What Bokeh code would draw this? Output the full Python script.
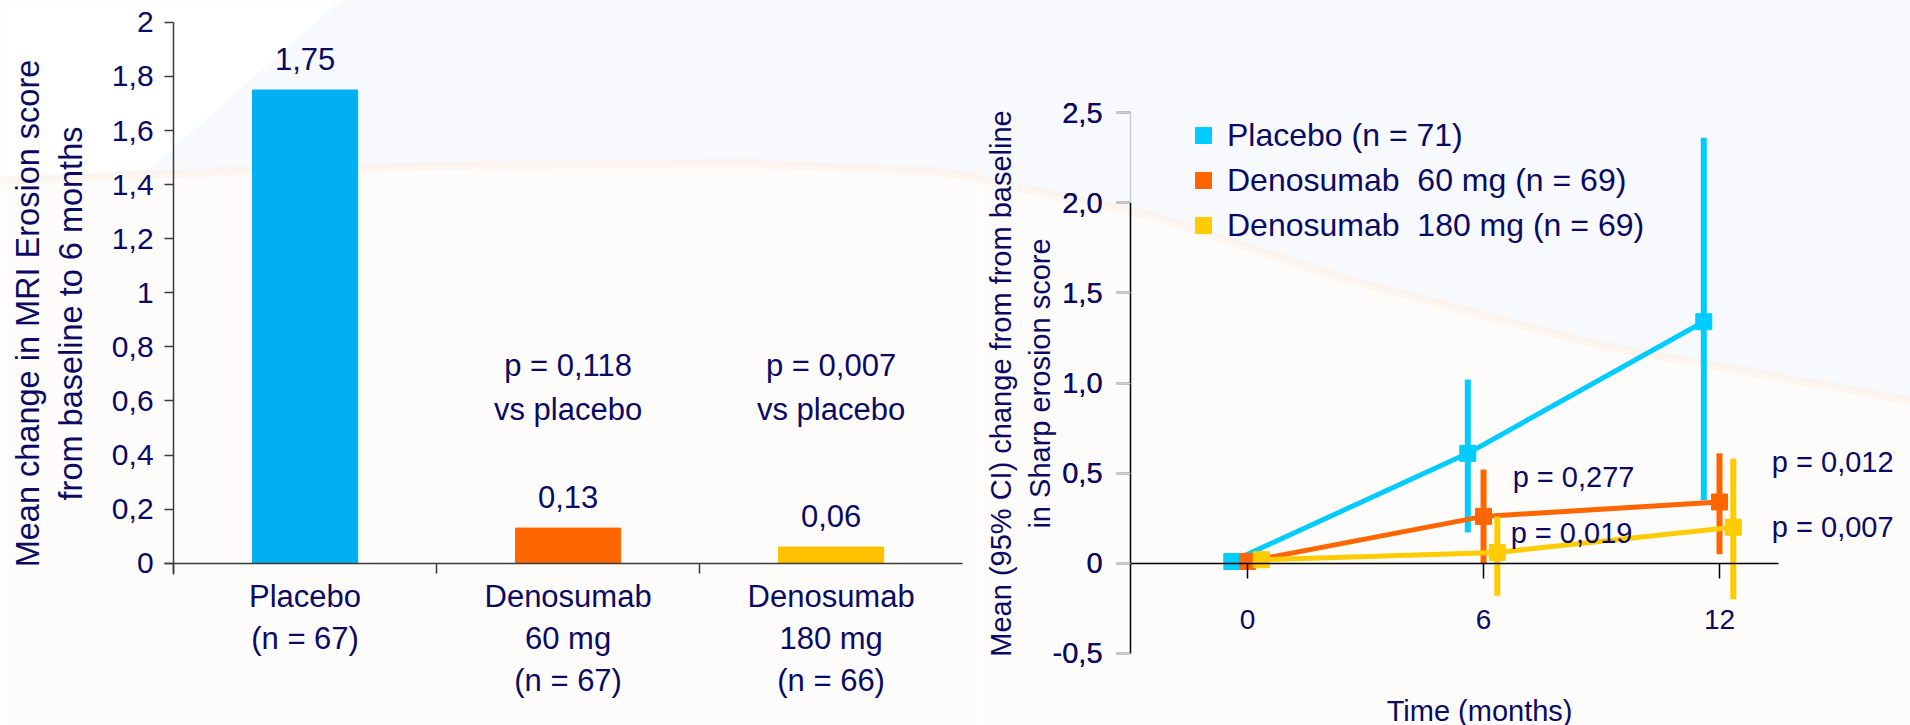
import math

from bokeh.core.properties import value
from bokeh.embed import file_html
from bokeh.layouts import row
from bokeh.models import (ColumnDataSource, FixedTicker, Label, LabelSet, Legend,
                          LegendItem, LinearAxis, Range1d)
from bokeh.plotting import figure
from bokeh.resources import INLINE
from bokeh.transform import dodge

# ---------------- MRI erosion score, baseline to 6 months ----------------
mri_groups = ["Placebo\n(n = 67)", "Denosumab\n60 mg\n(n = 67)", "Denosumab\n180 mg\n(n = 66)"]
mri_change = [1.75, 0.13, 0.06]
mri_pvalues = ["", "p = 0,118\nvs placebo", "p = 0,007\nvs placebo"]
mri_ticks = [0, 0.2, 0.4, 0.6, 0.8, 1.0, 1.2, 1.4, 1.6, 1.8, 2.0]
mri_tick_labels = ["0", "0,2", "0,4", "0,6", "0,8", "1", "1,2", "1,4", "1,6", "1,8", "2"]

# ---------------- Sharp erosion score over 12 months ----------------
months = [0, 6, 12]
series_names = ["Placebo (n = 71)", "Denosumab  60 mg (n = 69)", "Denosumab  180 mg (n = 69)"]
placebo_mean = [0.01, 0.61, 1.34]
placebo_lo = [float("nan"), 0.17, 0.35]
placebo_hi = [float("nan"), 1.02, 2.36]
dmab60_mean = [0.01, 0.26, 0.34]
dmab60_lo = [float("nan"), 0.0, 0.05]
dmab60_hi = [float("nan"), 0.52, 0.61]
dmab180_mean = [0.02, 0.06, 0.20]
dmab180_lo = [float("nan"), -0.18, -0.20]
dmab180_hi = [float("nan"), 0.26, 0.58]
sharp_ticks = [-0.5, 0, 0.5, 1.0, 1.5, 2.0, 2.5]
sharp_tick_labels = ["-0,5", "0", "0,5", "1,0", "1,5", "2,0", "2,5"]
month_ticks = [0, 6, 12]
sharp_pvalues = ["p = 0,277", "p = 0,019", "p = 0,012", "p = 0,007"]

# ---------------- styling ----------------
W, H = 1910, 725
BG = "#fefcfa"
SKY = "#f7f9fc"
INK = "#0a0a64"
FONT = "Liberation Sans"
BAR_COLORS = ["#00b0f0", "#ff6600", "#ffc000"]
LINE_COLORS = ["#00ccff", "#ff6600", "#ffcc00"]
OFFSETS = [-0.4, 0.0, 0.35]

# slide backdrop, in page pixels: pale sky above a soft curve, white corner top-left
SKY_EDGE = [(0, 180), (250, 170), (500, 164), (750, 163), (950, 172), (1150, 215),
            (1350, 280), (1600, 345), (1910, 400)]
WHITE_CORNER = [(0, 0), (340, 0), (150, 168), (0, 180)]


def backdrop(fig, left_px, width_px):
    """Paint the slide backdrop behind a panel whose frame fills the panel."""
    xr, yr = fig.x_range, fig.y_range

    def to_data(pts):
        xs = [xr.start + (px - left_px) / width_px * (xr.end - xr.start) for px, _ in pts]
        ys = [yr.end - py / H * (yr.end - yr.start) for _, py in pts]
        return xs, ys

    sky = [(0, 0), (W, 0)] + SKY_EDGE[::-1]
    xs, ys = to_data(sky)
    fig.patch(xs, ys, fill_color=SKY, line_color=None, level="image")
    xs, ys = to_data(WHITE_CORNER)
    fig.patch(xs, ys, fill_color="#ffffff", line_color=None, level="image")
    xs, ys = to_data(SKY_EDGE)
    fig.line(xs, ys, line_color="#fdeee4", line_width=8, line_alpha=0.5, level="image")


def style_axis(axis, size, tick_out, color, standoff):
    axis.axis_line_color = color
    axis.axis_line_width = 1.5
    axis.major_tick_line_color = color
    axis.major_tick_line_width = 1.5
    axis.major_tick_out = tick_out
    axis.major_tick_in = 0
    axis.minor_tick_line_color = None
    axis.major_label_text_font = FONT
    axis.major_label_text_font_size = size
    axis.major_label_text_color = INK
    axis.major_label_standoff = standoff


def axis_title(fig, text, sx, sy, size, line_height):
    fig.add_layout(Label(x=sx, y=sy, x_units="screen", y_units="screen", text=text,
                         angle=math.pi / 2, text_align="center", text_baseline="middle",
                         text_font=FONT, text_font_size=size, text_color=INK,
                         text_line_height=line_height))


# ================= left panel: bar chart =================
# the frame spans the whole panel; the axes are pinned at x = 0 and y = 0 inside it
pa = figure(width=980, height=H, title=None, output_backend="svg", toolbar_location=None,
            x_range=Range1d(-0.658, 3.068), y_range=Range1d(-0.6, 2.081),
            min_border_left=0, min_border_right=0, min_border_top=0, min_border_bottom=0,
            background_fill_color=BG, border_fill_color=BG, outline_line_color=None)
pa.grid.visible = False
backdrop(pa, 0, 980)

xpos = [i + 0.5 for i in range(len(mri_groups))]
src_a = ColumnDataSource(dict(
    x=xpos, top=mri_change, color=BAR_COLORS,
    txt=[f"{v:.2f}".replace(".", ",") for v in mri_change],
))
pa.vbar(x="x", top="top", width=0.4, color="color", source=src_a)
pa.add_layout(LabelSet(x="x", y="top", text="txt", source=src_a, y_offset=20,
                       text_align="center", text_baseline="alphabetic",
                       text_font=value(FONT), text_font_size="31px", text_color=INK))

for xp, ptxt in zip(xpos, mri_pvalues):
    if ptxt:
        pa.add_layout(Label(x=xp, y=0.65, text=ptxt, text_align="center", text_baseline="middle",
                            text_font=FONT, text_font_size="31px", text_color=INK,
                            text_line_height=1.25))

ya = pa.yaxis[0]
style_axis(ya, "30px", 9, "#3a3a3a", 11)
ya.fixed_location = 0
ya.ticker = FixedTicker(ticks=mri_ticks)
ya.major_label_overrides = dict(zip(mri_ticks, mri_tick_labels))
ya.bounds = (-0.04, 2.0)

xa = pa.xaxis[0]
style_axis(xa, "31px", 10, "#3a3a3a", 6)
xa.fixed_location = 0
xa.bounds = (-0.035, 3.0)
xa.ticker = FixedTicker(ticks=xpos, minor_ticks=[0, 1, 2])
xa.major_label_overrides = dict(zip(xpos, mri_groups))
xa.major_tick_line_color = None
xa.minor_tick_line_color = "#3a3a3a"
xa.minor_tick_line_width = 1.5
xa.minor_tick_out = 10
xa.minor_tick_in = 0

axis_title(pa, "Mean change in MRI Erosion score\nfrom baseline to 6 months", 49, 412, "32.5px", 1.17)

# ================= right panel: change over time =================
pb = figure(width=930, height=H, title=None, output_backend="svg", toolbar_location=None,
            x_range=Range1d(-6.79, 16.856), y_range=Range1d(-0.9, 3.122),
            min_border_left=0, min_border_right=0, min_border_top=0, min_border_bottom=0,
            background_fill_color=BG, border_fill_color=BG, outline_line_color=None)
pb.grid.visible = False
backdrop(pb, 980, 930)

means = [placebo_mean, dmab60_mean, dmab180_mean]
los = [placebo_lo, dmab60_lo, dmab180_lo]
his = [placebo_hi, dmab60_hi, dmab180_hi]
items = []
for name, m, lo, hi, col, off in zip(series_names, means, los, his, LINE_COLORS, OFFSETS):
    src = ColumnDataSource(dict(month=months, mean=m, lo=lo, hi=hi))
    xs = dodge("month", off, range=pb.x_range)
    pb.line(x=xs, y="mean", source=src, line_color=col, line_width=5)
    pb.segment(x0=xs, y0="lo", x1=xs, y1="hi", source=src, line_color=col, line_width=6)
    r = pb.scatter(x=xs, y="mean", source=src, marker="square", size=16,
                   fill_color=col, line_color=col)
    items.append(LegendItem(label=name, renderers=[r]))

pb.add_layout(Legend(items=items, location=(203, 480), glyph_width=40, glyph_height=40,
                     spacing=5, padding=0, margin=0, label_standoff=4,
                     border_line_color=None, background_fill_alpha=0,
                     label_text_font=FONT, label_text_font_size="32px", label_text_color=INK))

# y axis: solid up to 2,0, faint above it
sharp_label_map = dict(zip(sharp_ticks, sharp_tick_labels))
yb = pb.yaxis[0]
style_axis(yb, "29px", 14, "#000000", 14)
yb.fixed_location = -2.975
yb.ticker = FixedTicker(ticks=sharp_ticks)
yb.major_label_overrides = sharp_label_map
yb.bounds = (-0.5, 2.0)

yb_top = LinearAxis(fixed_location=-2.975, bounds=(2.0, 2.5),
                    ticker=FixedTicker(ticks=sharp_ticks), major_label_overrides=sharp_label_map)
style_axis(yb_top, "29px", 14, "#cfcfcf", 14)
pb.add_layout(yb_top, "left")

xb = pb.xaxis[0]
style_axis(xb, "28px", 15, "#000000", 32)
xb.fixed_location = 0
xb.bounds = (-2.975, 13.5)
xb.ticker = FixedTicker(ticks=month_ticks)

p_pos = [(6.74, 0.48), (6.69, 0.17), (13.33, 0.56), (13.33, 0.20)]
for (px, py), ptxt in zip(p_pos, sharp_pvalues):
    pb.add_layout(Label(x=px, y=py, text=ptxt, text_align="left", text_baseline="middle",
                        text_font=FONT, text_font_size="29px", text_color=INK))

pb.add_layout(Label(x=5.9, y=15, x_units="data", y_units="screen", text="Time (months)",
                    text_align="center", text_baseline="middle",
                    text_font=FONT, text_font_size="29px", text_color=INK))

axis_title(pb, "Mean (95% CI) change from from baseline\nin Sharp erosion score", 40, 342, "29px", 1.24)

layout = row(pa, pb)
open("out.html", "w").write(file_html(layout, INLINE))
